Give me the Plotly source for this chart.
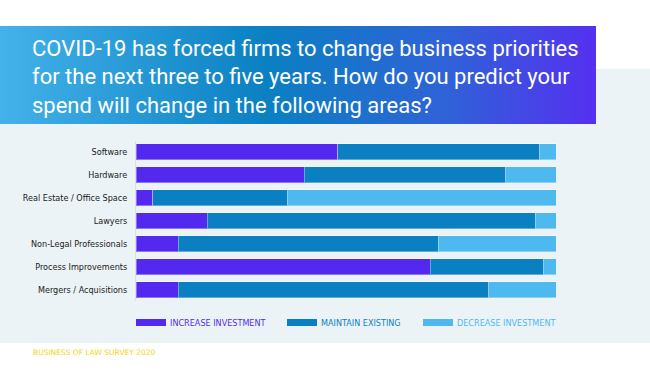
import plotly.graph_objects as go

categories = ["Software", "Hardware", "Real Estate / Office Space", "Lawyers",
              "Non-Legal Professionals", "Process Improvements", "Mergers / Acquisitions"]
increase = [48, 40, 4, 17, 10, 70, 10]
maintain = [48, 48, 32, 78, 62, 27, 74]
decrease = [4, 12, 64, 5, 28, 3, 16]
series_names = ["INCREASE INVESTMENT", "MAINTAIN EXISTING", "DECREASE INVESTMENT"]
series_colors = ["#5429EF", "#0A7FC1", "#4DB9EF"]
title_lines = ["COVID-19 has forced firms to change business priorities",
               "for the next three to five years. How do you predict your",
               "spend will change in the following areas?"]
footer = "BUSINESS OF LAW SURVEY 2020"

W, H = 650, 374
def px(x):
    return x / W
def py(y):
    return 1 - y / H

COND = "Liberation Sans Narrow, DejaVu Sans Condensed, Roboto"

fig = go.Figure()
for name, vals, col in zip(series_names, [increase, maintain, decrease], series_colors):
    fig.add_trace(go.Bar(
        y=categories, x=vals, name=name, orientation="h",
        marker=dict(color=col, line=dict(color="rgba(255,255,255,0.35)", width=1)),
        width=0.7, showlegend=False, xaxis="x", yaxis="y"))

# gradient title box on a pixel-space overlay axis
bx = [0, 596, 596, 0, 0]
by = [26, 26, 124, 124, 26]
fig.add_trace(go.Scatter(
    x=bx, y=by, mode="lines", fill="toself", line=dict(width=0, color="rgba(0,0,0,0)"),
    fillgradient=dict(type="horizontal",
                      colorscale=[[0, "#44B2EA"], [0.45, "#0A80C2"], [0.75, "#2F62D8"], [1, "#5530F0"]]),
    hoverinfo="skip", showlegend=False, xaxis="x2", yaxis="y2"))

fig.update_layout(
    width=W, height=H,
    margin=dict(l=0, r=0, t=0, b=0),
    paper_bgcolor="white",
    plot_bgcolor="rgba(0,0,0,0)",
    barmode="stack",
    bargap=0.3,
    xaxis=dict(domain=[px(136), px(556)], range=[0, 100], showgrid=False, zeroline=False,
               showticklabels=False, fixedrange=True),
    yaxis=dict(domain=[py(301), py(140.5)], autorange="reversed", showgrid=False, zeroline=False,
               showline=True, linecolor="#D6E2EA", linewidth=1, ticks="", ticklabelstandoff=6,
               tickfont=dict(family=COND, size=9, color="#1A1A1A")),
    xaxis2=dict(domain=[0, 1], range=[0, W], visible=False, fixedrange=True, anchor="y2"),
    yaxis2=dict(domain=[0, 1], range=[H, 0], visible=False, fixedrange=True, anchor="x2"),
)

shapes = [
    # light panel
    dict(type="rect", xref="paper", yref="paper", x0=0, x1=1, y0=py(343), y1=py(69),
         fillcolor="#ECF3F7", line=dict(width=0), layer="below"),
]
annotations = []
for i, l in enumerate(title_lines):
    annotations.append(dict(text=l, xref="paper", yref="paper", x=px(30), y=py(48 + i * 28.5),
                            xanchor="left", yanchor="middle", showarrow=False,
                            font=dict(family="Roboto", size=22, color="white")))

leg_x = [136, 287, 423]
for name, col, lx in zip(series_names, series_colors, leg_x):
    shapes.append(dict(type="rect", xref="paper", yref="paper", x0=px(lx), x1=px(lx + 30),
                       y0=py(326), y1=py(319), fillcolor=col, line=dict(width=0)))
    annotations.append(dict(text=name, xref="paper", yref="paper", x=px(lx + 32), y=py(322.5),
                            xanchor="left", yanchor="middle", showarrow=False,
                            font=dict(family=COND, size=9, color=col)))

annotations.append(dict(text=footer, xref="paper", yref="paper", x=px(31), y=py(352),
                        xanchor="left", yanchor="middle", showarrow=False,
                        font=dict(family="DejaVu Sans", size=7.5, color="#F2D516")))

fig.update_layout(shapes=shapes, annotations=annotations)
fig.write_html("out.html", config={"displayModeBar": False},
               post_script="document.body.style.margin='0';")
